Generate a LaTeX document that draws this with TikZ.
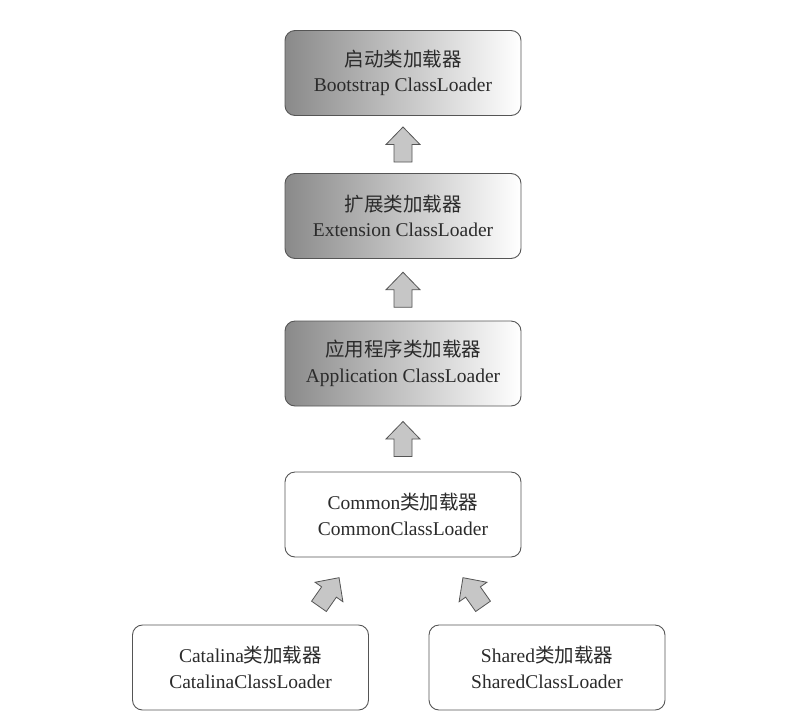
\documentclass[tikz,border=0pt]{standalone}
\usepackage{fontspec}
\setmainfont{Liberation Serif}
\newfontfamily\cjk{Noto Sans CJK SC}
\usetikzlibrary{calc}
\definecolor{bordergray}{HTML}{555555}
\definecolor{shadeL}{HTML}{8A8A8A}
\definecolor{txtgray}{HTML}{2B2B2B}
\definecolor{arrfill}{HTML}{C6C6C6}
\tikzset{
 loader/.style={draw=bordergray, line width=0.9pt, rounded corners=10pt,
   minimum width=236pt, minimum height=85pt, align=center, text=txtgray,
   font=\fontsize{19.5}{25.5}\selectfont, inner sep=0pt},
 shadedloader/.style={loader, left color=shadeL, right color=white},
 blockarrow/.pic={\draw[draw=bordergray, fill=arrfill, line width=0.8pt, line join=miter]
   (-9,17.5) -- (-9,0) -- (-17,0) -- (0,-17.5) -- (17,0) -- (9,0) -- (9,17.5) -- cycle;}
}
\begin{document}
\begin{tikzpicture}[x=1pt,y=-1pt]
\useasboundingbox[fill=white] (0,0) rectangle (800,718);
\node[shadedloader] (boot) at (403,73) {{\cjk 启动类加载器}\\Bootstrap ClassLoader};
\node[shadedloader] (ext) at (403,216) {{\cjk 扩展类加载器}\\Extension ClassLoader};
\node[shadedloader] (app) at (403,363.5) {{\cjk 应用程序类加载器}\\Application ClassLoader};
\node[loader] (common) at (403,514.5) {Common{\cjk 类加载器}\\CommonClassLoader};
\node[loader] (cat) at (250.5,667.5) {Catalina{\cjk 类加载器}\\CatalinaClassLoader};
\node[loader] (shared) at (547,667.5) {Shared{\cjk 类加载器}\\SharedClassLoader};
\coordinate (a1) at ($(boot.south)!0.5!(ext.north)$);
\coordinate (a2) at ($(ext.south)!0.5!(app.north)$);
\coordinate (a3) at ($(app.south)!0.5!(common.north)$);
\coordinate (a4) at (329,592);
\coordinate (a5) at (473,592);
\pic at (a1) {blockarrow};
\pic at (a2) {blockarrow};
\pic at (a3) {blockarrow};
\pic[rotate=-35] at (a4) {blockarrow};
\pic[rotate=35] at (a5) {blockarrow};
\end{tikzpicture}
\end{document}
